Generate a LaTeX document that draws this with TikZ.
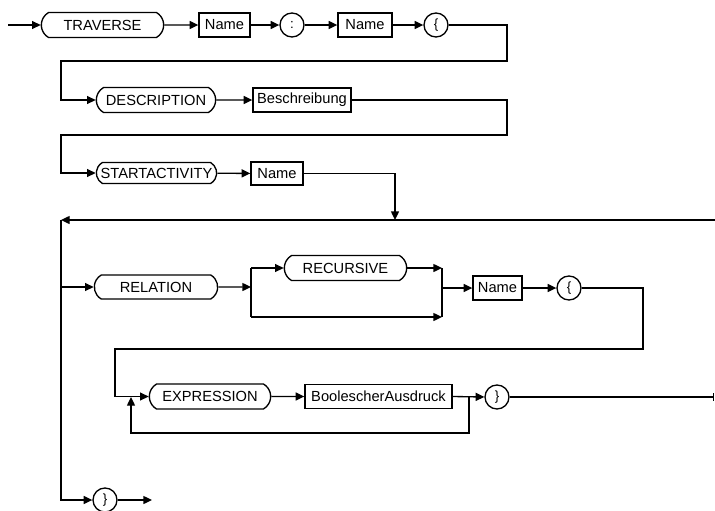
\documentclass[tikz,border=0pt]{standalone}
\usepackage{fontspec}
\setmainfont{Liberation Sans}
\usetikzlibrary{shapes.misc,arrows.meta}
\tikzset{
  term/.style={draw,rounded rectangle,rounded rectangle arc length=120,minimum height=18.75pt,inner sep=1pt,font=\fontsize{11}{13}\selectfont},
  nterm/.style={draw,rectangle,minimum height=18pt,inner sep=2pt,font=\fontsize{11}{13}\selectfont},
  sym/.style={draw,circle,minimum size=18pt,inner sep=0pt,font=\fontsize{10}{12}\selectfont}
}
\begin{document}
\begin{tikzpicture}[x=0.75pt,y=-0.75pt,line width=1pt,line join=miter,>={Triangle[length=6.5pt,width=6pt]}]
	\useasboundingbox (0,0) rectangle (715,511);
	% first rows
	\coordinate (in) at (8,25);
	\node[term,minimum width=93.75pt] (trav) at (102.5,25) {TRAVERSE};
	\node[nterm,minimum width=38.25pt] (nameA) at (224.5,25) {Name};
	\node[sym] (colon) at (292,25) {:};
	\node[nterm,minimum width=40.5pt] (nameB) at (365,25) {Name};
	\node[sym] (lbA) at (436,25) {\{};
	\node[term,minimum width=91.5pt] (desc) at (156,100) {DESCRIPTION};
	\node[nterm,minimum width=73.5pt] (beschr) at (302,100) {Beschreibung};
	\node[term,minimum width=92.25pt,minimum height=15.75pt] (start) at (156.5,173) {STARTACTIVITY};
	\node[nterm,minimum width=39pt,minimum height=17.25pt] (nameC) at (277,173.5) {Name};
	\draw[->] (in) -- (trav);
	\draw[->] (trav) -- (nameA);
	\draw[->] (nameA) -- (colon);
	\draw[->] (colon) -- (nameB);
	\draw[->] (nameB) -- (lbA);
	\draw[->] (lbA.east) -- (507,25) -- (507,61) -- (61,61) |- (desc.west);
	\draw[->] (desc) -- (beschr);
	\draw[->] (beschr.east) -- (507,100) -- (507,135) -- (61,135) |- (start.west);
	\draw[->] (start) -- (nameC);
	\draw[->] (nameC.east) -| (395,220);
	% repeated part
	\coordinate (loopR) at (715,220);
	\coordinate (loopL) at (61,220);
	\draw[->] (loopR) -- (loopL);
	\node[term,minimum width=94.5pt,minimum height=18pt] (rel) at (156,287) {RELATION};
	\node[term,minimum width=93.75pt] (rec) at (345.5,268) {RECURSIVE};
	\node[nterm,minimum width=36.75pt] (nameD) at (497.5,288) {Name};
	\node[sym] (lbB) at (569,288) {\{};
	\node[term,minimum width=93pt] (expr) at (210,396.5) {EXPRESSION};
	\node[nterm,minimum width=110.25pt] (bool) at (378.5,396.5) {BoolescherAusdruck};
	\node[sym] (rbA) at (497,397) {\}};
	\node[sym] (rbB) at (105,500) {\}};
	\coordinate (split) at (251,287);
	\coordinate (join) at (442,288);
	\draw[->] (loopL) |- (rbB.west);
	\draw[->] (61,287) -- (rel.west);
	\draw[->] (rel) -- (split);
	\draw (251,268) -- (251,317);
	\draw[->] (251,268) -- (rec.west);
	\draw[->] (rec.east) -- (442,268);
	\draw[->] (251,317) -- (442,317);
	\draw (442,268) -- (442,317);
	\draw[->] (join) -- (nameD);
	\draw[->] (nameD) -- (lbB);
	\draw[->] (lbB.east) -- (643,288) -- (643,349) -- (115,349) |- (expr.west);
	\draw[->] (expr) -- (bool);
	\draw[->] (bool.east) -- (rbA.west);
	\draw[->] (469,397) |- (131,433) -- (131,397);
	\draw[-{Bar[width=6pt]}] (rbA.east) -- (714,397);
	\draw[->] (rbB.east) -- (152,500);
\end{tikzpicture}
\end{document}
